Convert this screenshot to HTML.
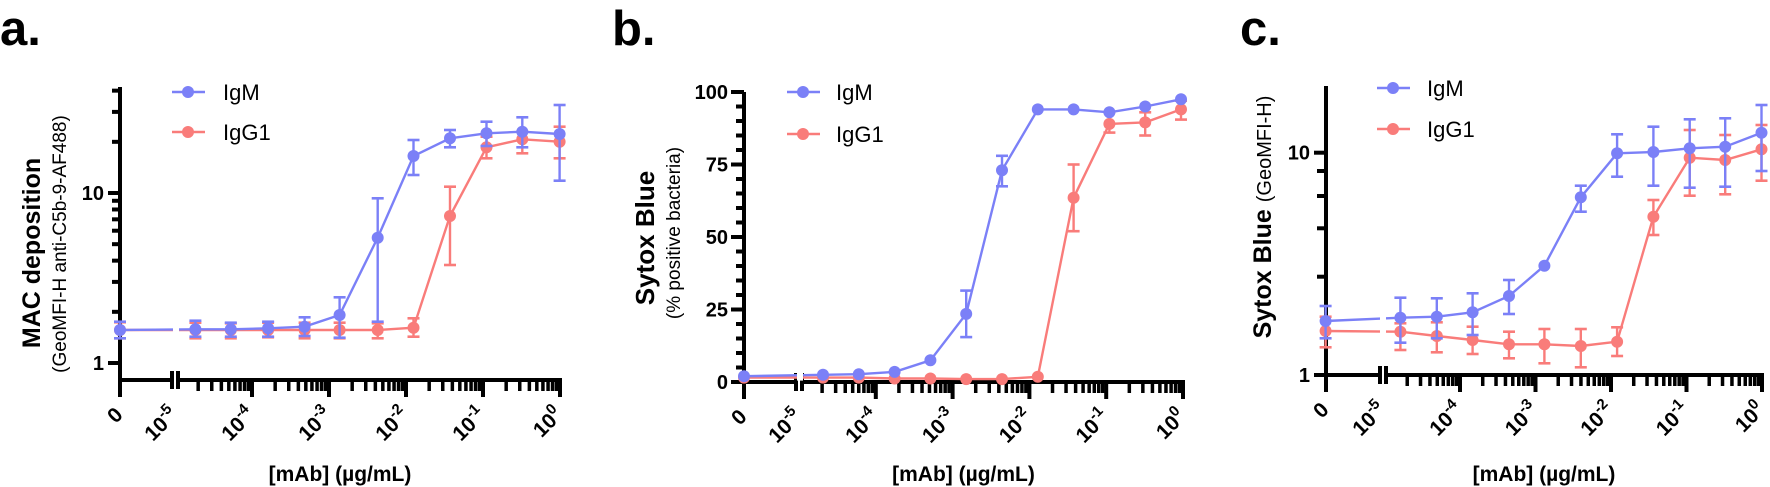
<!DOCTYPE html>
<html><head><meta charset="utf-8">
<style>
html,body{margin:0;padding:0;background:#fff;}
svg{display:block;font-family:"Liberation Sans",Arial,sans-serif;}
</style></head>
<body>
<svg id="s" width="1770" height="487" viewBox="0 0 1770 487" xmlns="http://www.w3.org/2000/svg">
<rect width="1770" height="487" fill="#fff"/>
<text x="0" y="45" font-size="49" font-weight="bold">a.</text>
<text x="612" y="45" font-size="49" font-weight="bold">b.</text>
<text x="1240" y="45" font-size="49" font-weight="bold">c.</text>
</svg>
<script>
const S=document.getElementById('s');
let out='';
const B='#7b80f7',R='#f97c7a';
function line(x1,y1,x2,y2,c,w){out+=`<line x1="${x1}" y1="${y1}" x2="${x2}" y2="${y2}" stroke="${c}" stroke-width="${w}"/>`;}
function circ(x,y,c){out+=`<circle cx="${x}" cy="${y}" r="6" fill="${c}"/>`;}
function txt(x,y,s,fs,extra){out+=`<text x="${x}" y="${y}" font-size="${fs}" ${extra||''}>${s}</text>`;}
function axes(x0,x1,yTop,yAx,brk,dec0,dpx){
  line(x0,yTop,x0,yAx+17,'#000',4);
  line(x0-2,yAx,x1+2,yAx,'#000',4);
  out+=`<rect x="${brk-5}" y="${yAx-9}" width="10" height="18" fill="#000"/><rect x="${brk-1}" y="${yAx-9}" width="2" height="18" fill="#fff"/>`;
  for(let e=-4;e<=0;e++){const x=x1+e*dpx;line(x,yAx,x,yAx+17,'#000',4);}
  for(let e=-5;e<=-1;e++){for(let m=2;m<=9;m++){const x=x1+(e+Math.log10(m))*dpx;line(x,yAx,x,yAx+11,'#000',3.5);}}
  const lab=(x,s,sup)=>{out+=`<text transform="translate(${x+4},${yAx+36}) rotate(-45)" text-anchor="end" font-size="21" font-weight="bold">${s}${sup!==undefined?`<tspan dy="-9" font-size="15">${sup}</tspan>`:''}</text>`;};
  lab(x0,'0');
  lab(brk,'10','-5');
  for(let e=-4;e<=0;e++) lab(x1+e*dpx,'10',e===0?'0':String(e));
  txt((x0+x1)/2,481,'[mAb] (µg/mL)',21,'font-weight="bold" text-anchor="middle"');
}
function series(pts,c,gap){
  let d='';
  for(let i=0;i<pts.length;i++){d+=(i?'L':'M')+pts[i][0]+','+pts[i][1];}
  out+=`<path d="${d}" fill="none" stroke="${c}" stroke-width="2.4"/>`;
  if(gap) out+=`<rect x="${gap-3}" y="${Math.min(pts[0][1],pts[1][1])-3}" width="6" height="${Math.abs(pts[0][1]-pts[1][1])+6}" fill="#fff"/>`;
  for(const p of pts){
    if(p[2]!==undefined){line(p[0],p[2],p[0],p[3],c,2.4);line(p[0]-6,p[2],p[0]+6,p[2],c,2.6);line(p[0]-6,p[3],p[0]+6,p[3],c,2.6);}
    circ(p[0],p[1],c);
  }
}
function legend(x,y1,y2,tx){
  line(x,y1,x+33,y1,B,2.4);circ(x+16,y1,B);txt(tx,y1+8,'IgM',22);
  line(x,y2,x+33,y2,R,2.4);circ(x+16,y2,R);txt(tx,y2+8,'IgG1',22);
}
/* ---------- Panel a ---------- */
{
  const xa=z=>+(z/2.6).toFixed(1), ya=z=>+(60+z/3).toFixed(1);
  axes(120,560,87,380,175,-5,77);
  const yv=v=>363-170*Math.log10(v);
  for(const v of [1,2,3,4,5,6,7,8,9,10,20,30,40]){const maj=(v===1||v===10);line(120,yv(v),maj?108:112,yv(v),'#000',4);}
  txt(104,yv(10)+7,'10',20,'font-weight="bold" text-anchor="end"');
  txt(104,yv(1)+7,'1',20,'font-weight="bold" text-anchor="end"');
  const xs=[312,508,600,697,792,883,982,1075,1170,1265,1358,1455];
  const mY=[810,808,808,805,800,765,533,288,235,220,215,222];
  const mE=[[785,835],[782,830],[788,830],[785,830],[772,828],[712,833],[415,785],[240,345],[210,262],[185,258],[172,262],[135,362]];
  const gY=[810,810,810,810,810,810,810,803,468,262,238,245];
  const gE=[[787,835],[788,835],[790,835],[788,832],[788,835],[788,835],[790,835],[775,830],[380,615],[230,295],[215,280],[200,295]];
  series(xs.map((x,i)=>[xa(x),ya(gY[i]),ya(gE[i][0]),ya(gE[i][1])]),R,176);
  series(xs.map((x,i)=>[xa(x),ya(mY[i]),ya(mE[i][0]),ya(mE[i][1])]),B,176);
  legend(172,92,132,223);
  out+=`<text transform="translate(40,253) rotate(-90)" text-anchor="middle" font-size="25" font-weight="bold">MAC deposition</text>`;
  out+=`<text transform="translate(66,244) rotate(-90)" text-anchor="middle" font-size="19">(GeoMFI-H anti-C5b-9-AF488)</text>`;
}
/* ---------- Panel b ---------- */
{
  const yv=v=>+(382-v*2.9).toFixed(1);
  axes(744,1183,92,382,799,-5,76.8);
  for(let v=0;v<=100;v+=5){const maj=v%25===0;line(744,yv(v),maj?731:736,yv(v),'#000',4);}
  for(const v of [0,25,50,75,100]) txt(728,yv(v)+7,v,20,'font-weight="bold" text-anchor="end"');
  const xk=k=>k<0?744:+(1181-k*35.8).toFixed(1);
  const ks=[-1,10,9,8,7,6,5,4,3,2,1,0];
  const mV=[2,2.5,2.7,3.5,7.5,23.5,73,94,94,93,95,97.5];
  const mE=[null,null,null,null,null,[15.5,31.5],[67.5,78],null,null,null,null,null];
  const gV=[1.5,1.5,1.5,1.2,1.2,1,1,1.8,63.5,89,89.5,94];
  const gE=[null,null,null,null,null,null,null,null,[52,75],[86,93],[85,93],[90.5,97]];
  series(ks.map((k,i)=>gE[i]?[xk(k),yv(gV[i]),yv(gE[i][0]),yv(gE[i][1])]:[xk(k),yv(gV[i])]),R,800);
  series(ks.map((k,i)=>mE[i]?[xk(k),yv(mV[i]),yv(mE[i][0]),yv(mE[i][1])]:[xk(k),yv(mV[i])]),B,800);
  legend(787,92,134,836);
  out+=`<text transform="translate(654,238) rotate(-90)" text-anchor="middle" font-size="26" font-weight="bold">Sytox Blue</text>`;
  out+=`<text transform="translate(680,233) rotate(-90)" text-anchor="middle" font-size="19">(% positive bacteria)</text>`;
}
/* ---------- Panel c ---------- */
{
  const xc=z=>+(1100+z/2.34).toFixed(1), yc=z=>+(60+z/3).toFixed(1);
  axes(1326,1762,86,375,1383,-5,75.5);
  for(const z of [278,945]) line(1326,yc(z),1314,yc(z),'#000',4);
  for(const z of [333,408,505,650]) line(1326,yc(z),1317,yc(z),'#000',4);
  txt(1310,yc(278)+7,'10',20,'font-weight="bold" text-anchor="end"');
  txt(1310,yc(945)+7,'1',20,'font-weight="bold" text-anchor="end"');
  const xs=[528,703,788,872,957,1040,1125,1210,1295,1380,1463,1548];
  const mY=[783,773,770,757,708,617,412,280,276,265,260,218];
  const mE=[[738,835],[713,848],[715,835],[700,825],[660,762],null,[377,455],[223,350],[200,377],[178,383],[175,380],[135,333]];
  const gY=[813,815,828,840,853,853,858,845,470,293,300,268];
  const gE=[[770,862],[790,870],[787,877],[800,882],[815,895],[807,910],[807,922],[802,888],[420,525],[210,407],[225,403],[195,362]];
  series(xs.map((x,i)=>gE[i]?[xc(x),yc(gY[i]),yc(gE[i][0]),yc(gE[i][1])]:[xc(x),yc(gY[i])]),R,1383);
  series(xs.map((x,i)=>mE[i]?[xc(x),yc(mY[i]),yc(mE[i][0]),yc(mE[i][1])]:[xc(x),yc(mY[i])]),B,1383);
  legend(1377,88,129,1427);
  out+=`<text transform="translate(1271,217) rotate(-90)" text-anchor="middle"><tspan font-size="25" font-weight="bold">Sytox Blue </tspan><tspan font-size="20">(GeoMFI-H)</tspan></text>`;
}
S.insertAdjacentHTML('beforeend',out);
</script>
</body></html>
